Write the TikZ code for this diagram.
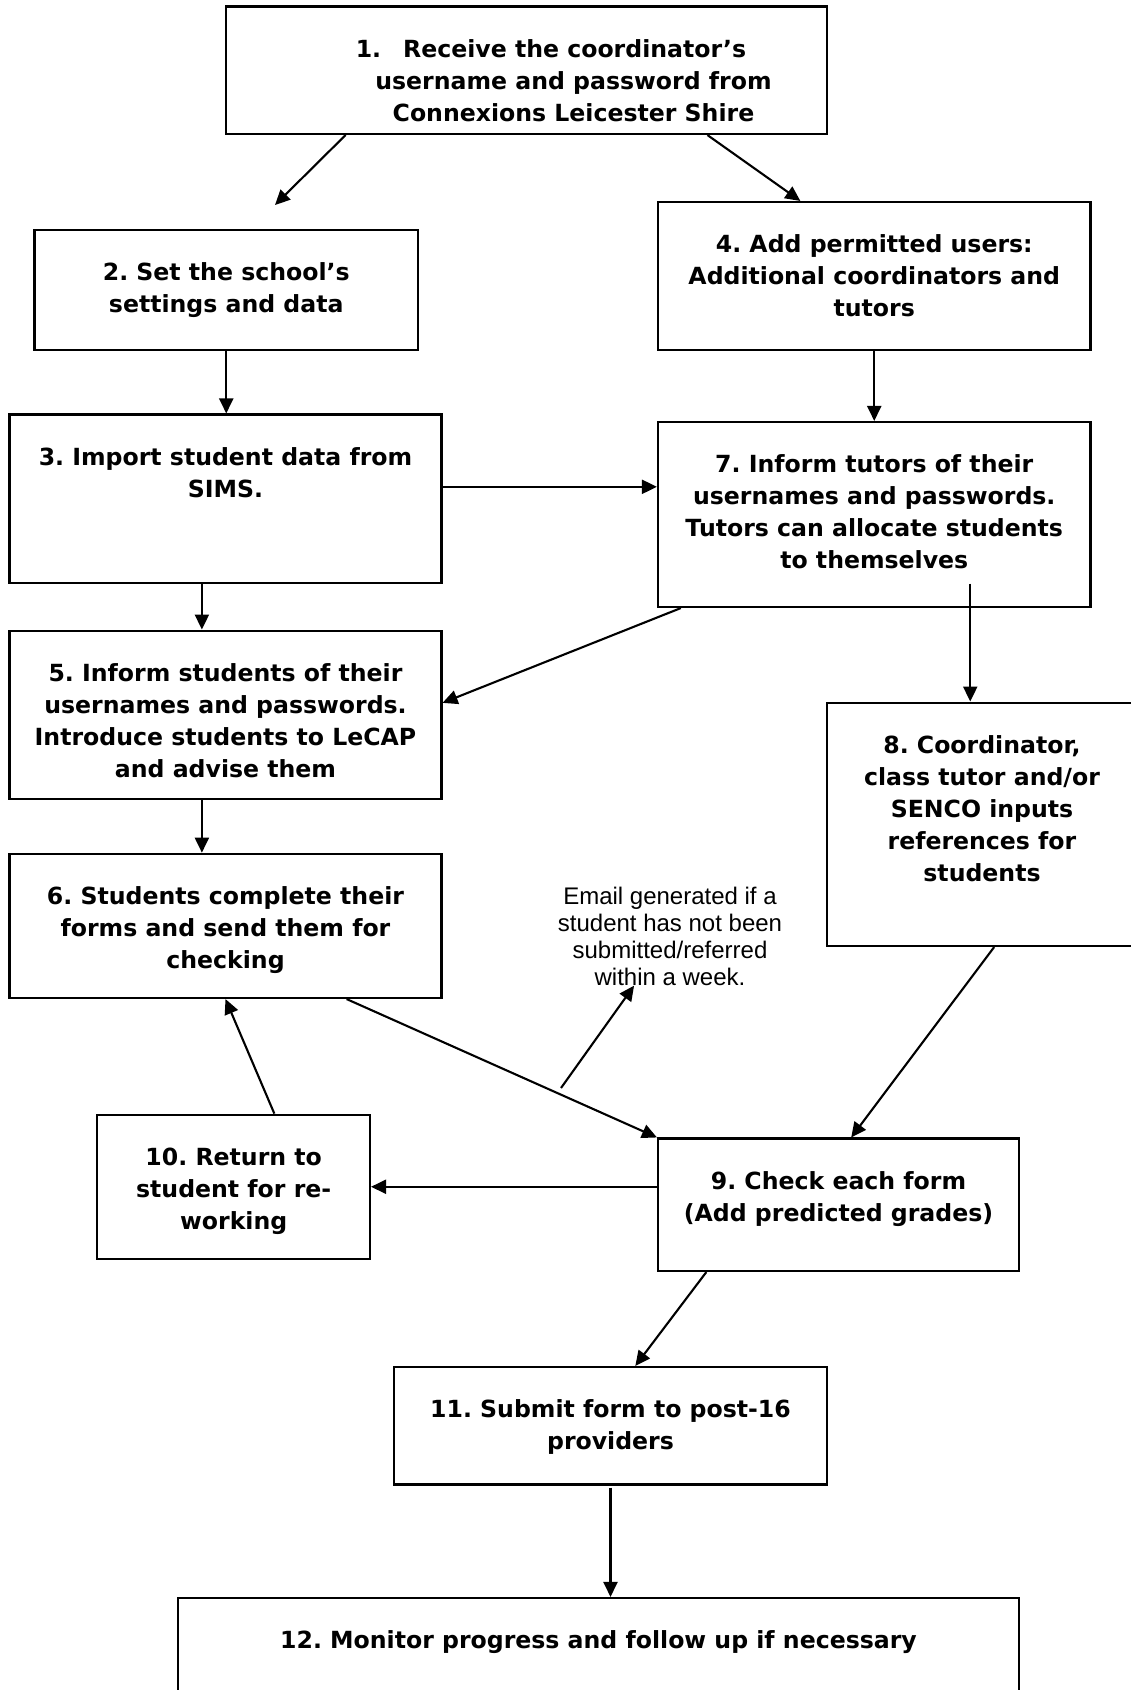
\documentclass[tikz,border=0pt]{standalone}
\usepackage{fontspec}
\setmainfont{DejaVu Sans}
\newfontfamily\emailfamily{Liberation Sans}
\usetikzlibrary{arrows.meta,positioning,calc}
\frenchspacing
\newcommand{\stepfont}{\bfseries\fontsize{23.6pt}{32pt}\selectfont}
\newcommand{\emailfont}{\emailfamily\fontsize{24pt}{27pt}\selectfont}
\newcommand{\firstline}{\rule{0pt}{20pt}}
\tikzset{
  stepbox/.style={draw, line width=2.1pt, inner sep=0pt},
  steptext/.style={align=center, inner sep=0pt, font=\stepfont},
  arr/.style={-{Triangle[length=15pt,width=14pt]}, line width=2.1pt},
}
\begin{document}
\begin{tikzpicture}[x=1pt, y=-1pt]
\useasboundingbox (0,0) rectangle (1131,1690);

% boxes
\node[stepbox, minimum width=601pt, minimum height=127.5pt] (b1) at (526.5,70.25) {};
\node[stepbox, minimum width=383.5pt, minimum height=120pt] (b2) at (226.25,290) {};
\node[stepbox, minimum width=432.5pt, minimum height=148pt] (b4) at (874.25,276) {};
\node[stepbox, minimum width=432pt, minimum height=168.5pt] (b3) at (225.5,498.75) {};
\node[stepbox, minimum width=432.5pt, minimum height=185pt] (b7) at (874.25,514.5) {};
\node[stepbox, minimum width=432pt, minimum height=168.4pt] (b5) at (225.5,714.8) {};
\node[stepbox, minimum width=432pt, minimum height=144.3pt] (b6) at (225.5,925.85) {};
\node[stepbox, minimum width=310pt, minimum height=243.4pt] (b8) at (982,824.3) {};
\node[stepbox, minimum width=272.6pt, minimum height=144.1pt] (b10) at (233.7,1186.75) {};
\node[stepbox, minimum width=361pt, minimum height=132.5pt] (b9) at (838.5,1204.75) {};
\node[stepbox, minimum width=433pt, minimum height=117.5pt] (b11) at (610.5,1425.75) {};
\node[stepbox, minimum width=841pt, minimum height=162pt] (b12) at (598.5,1679) {};

% texts
\node[steptext, below=31.5pt of b1.north, xshift=24.5pt] (t1) {\firstline 1.\hspace{22pt}Receive the coordinator’s\\\hspace*{45pt}username and password from\\\hspace*{45pt}Connexions Leicester Shire};
\node[steptext, below=31.5pt of b2.north] (t2) {\firstline 2. Set the school’s\\settings and data};
\node[steptext, below=31.5pt of b4.north] (t4) {\firstline 4. Add permitted users:\\Additional coordinators and\\tutors};
\node[steptext, below=31.5pt of b3.north] (t3) {\firstline 3. Import student data from\\SIMS.};
\node[steptext, below=31.5pt of b7.north] (t7) {\firstline 7. Inform tutors of their\\usernames and passwords.\\Tutors can allocate students\\to themselves};
\node[steptext, below=31.5pt of b5.north] (t5) {\firstline 5. Inform students of their\\usernames and passwords.\\Introduce students to LeCAP\\and advise them};
\node[steptext, below=31.5pt of b6.north] (t6) {\firstline 6. Students complete their\\forms and send them for\\checking};
\node[steptext, below=31.5pt of b8.north] (t8) {\firstline 8. Coordinator,\\class tutor and/or\\SENCO inputs\\references for\\students};
\node[steptext, below=31.5pt of b10.north] (t10) {\firstline 10. Return to\\student for re-\\working};
\node[steptext, below=31.5pt of b9.north] (t9) {\firstline 9. Check each form\\(Add predicted grades)};
\node[steptext, below=31.5pt of b11.north] (t11) {\firstline 11. Submit form to post-16\\providers};
\node[steptext, below=31.5pt of b12.north] (t12) {\firstline 12. Monitor progress and follow up if necessary};

% email note
\node[align=center, inner sep=0pt, font=\emailfont, anchor=north] (em) at (670,884)
  {\firstline Email generated if a\\student has not been\\submitted/referred\\within a week.};

% free ends
\coordinate (e2) at (275,205);
\coordinate (e9) at (561,1088);

% arrows
\draw[arr] ($(b1.south west)!0.2!(b1.south east)$) -- (e2);
\draw[arr] ($(b1.south west)!0.8!(b1.south east)$) -- ($(b4.north west)!0.33!(b4.north east)$);
\draw[arr] (b2.south) -- (b2.south |- b3.north);
\draw[arr] (b4.south) -- (b7.north);
\draw[arr] ($(b3.north east)!0.43!(b3.south east)$) coordinate (c37) -- (c37 -| b7.west);
\draw[arr] ($(b3.south west)!0.4456!(b3.south east)$) coordinate (c35) -- (c35 |- b5.north);
\draw[arr] ($(b7.south west)!0.055!(b7.south east)$) -- ($(b5.north east)!0.43!(b5.south east)$);
\draw[arr] ($(b7.south)+(96,-24.5)$) coordinate (c78) -- (c78 |- b8.north);
\draw[arr] ($(b5.south west)!0.4456!(b5.south east)$) coordinate (c56) -- (c56 |- b6.north);
\draw[arr] ($(b8.south west)!0.539!(b8.south east)$) -- ($(b9.north west)!0.535!(b9.north east)$);
\draw[arr] ($(b6.south west)!0.779!(b6.south east)$) -- (b9.north west);
\draw[arr] (e9) -- ($(em.south west)!0.34!(em.south east)$);
\draw[arr] ($(b10.north west)!0.648!(b10.north east)$) -- (b6.south);
\draw[arr] (b9.west |- b10.east) -- (b10.east);
\draw[arr] ($(b9.south west)!0.136!(b9.south east)$) -- ($(b11.north west)!0.557!(b11.north east)$);
\draw[arr] ($(b11.south)+(0,2)$) coordinate (c1112) -- (c1112 |- b12.north);
\end{tikzpicture}
\end{document}
